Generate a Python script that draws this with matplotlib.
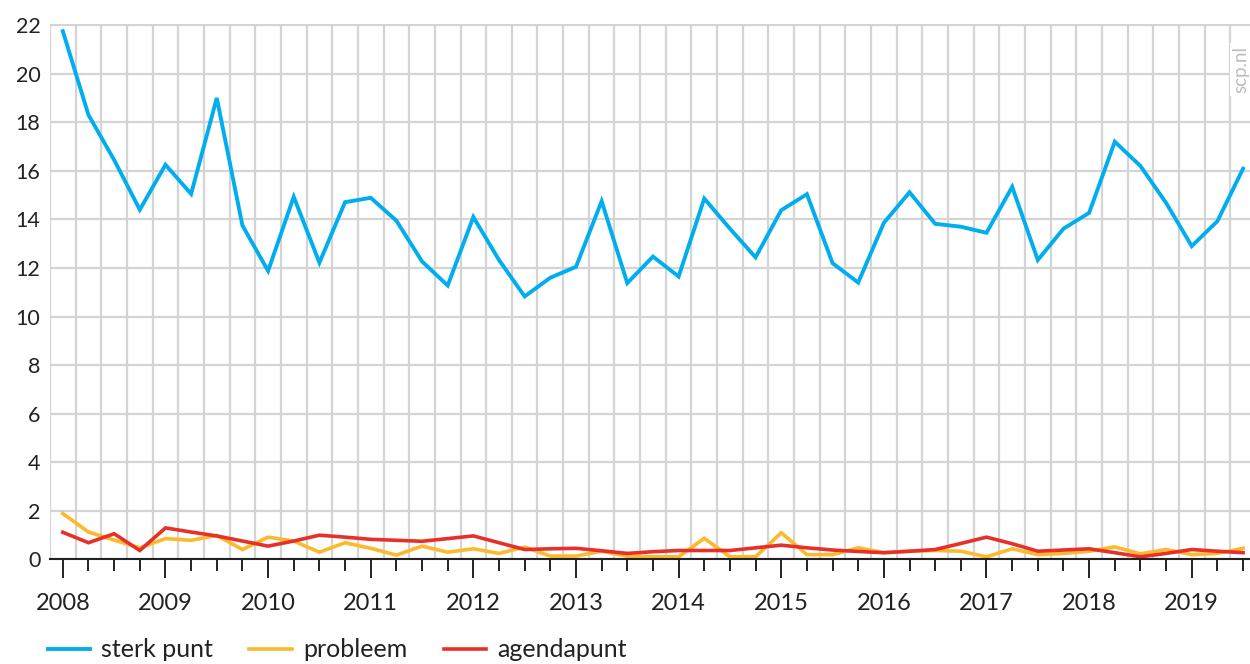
import numpy as np
import matplotlib
matplotlib.use('Agg')
import matplotlib.pyplot as plt

plt.rcParams['font.family'] = ['Lato', 'DejaVu Sans']

# quarterly figures, 2008 Q1 .. 2019 Q3
start_year = 2008
sterk_punt = [21.75, 18.3, 16.45, 14.4, 16.25, 15.05, 19.0, 13.75,
              11.88, 14.93, 12.22, 14.71, 14.89, 13.95, 12.27, 11.28,
              14.1, 12.33, 10.83, 11.6, 12.05, 14.75, 11.38, 12.47,
              11.65, 14.86, 13.62, 12.44, 14.38, 15.04, 12.2, 11.4,
              13.86, 15.12, 13.82, 13.7, 13.45, 15.34, 12.33, 13.62,
              14.27, 17.2, 16.2, 14.68, 12.9, 13.93, 16.09]
probleem = [1.89, 1.13, 0.8, 0.48, 0.86, 0.79, 0.99, 0.41,
            0.92, 0.76, 0.3, 0.69, 0.46, 0.18, 0.55, 0.3,
            0.44, 0.25, 0.51, 0.14, 0.14, 0.34, 0.14, 0.11,
            0.11, 0.87, 0.11, 0.11, 1.1, 0.2, 0.2, 0.48,
            0.28, 0.34, 0.37, 0.34, 0.11, 0.44, 0.2, 0.25,
            0.34, 0.52, 0.23, 0.41, 0.2, 0.25, 0.46]
agendapunt = [1.12, 0.69, 1.06, 0.37, 1.3, 1.13, 0.97, 0.76,
              0.55, 0.76, 1.0, 0.92, 0.83, 0.79, 0.75, 0.86,
              0.97, 0.69, 0.41, 0.44, 0.46, 0.36, 0.25, 0.32,
              0.37, 0.37, 0.37, 0.48, 0.59, 0.48, 0.39, 0.33,
              0.28, 0.34, 0.41, 0.66, 0.92, 0.65, 0.34, 0.39,
              0.44, 0.28, 0.11, 0.25, 0.41, 0.34, 0.28]
years = list(range(2008, 2020))

x = start_year + np.arange(len(sterk_punt)) / 4.0

BLUE = '#00AEEF'
ORANGE = '#FDB92C'
RED = '#E8302A'
GRID = '#D4D4D4'
TXT = '#222222'

fig = plt.figure(figsize=(12.5, 6.64), dpi=100)
ax = fig.add_axes([0.04, 0.1574, 0.96, 0.8066])

# grid: vertical lines sit between the quarters
ax.vlines(start_year - 0.125 + np.arange(48) * 0.25, 0, 22, color=GRID, lw=1.6, zorder=0)
ax.set_yticks(np.arange(0, 23, 2))
ax.yaxis.grid(True, color=GRID, lw=1.6, zorder=0)
ax.set_axisbelow(True)

ax.plot(x, sterk_punt, color=BLUE, lw=2.8, label='sterk punt', solid_joinstyle='miter')
ax.plot(x, probleem, color=ORANGE, lw=2.6, label='probleem', solid_joinstyle='miter')
ax.plot(x, agendapunt, color=RED, lw=2.6, label='agendapunt', solid_joinstyle='miter')

ax.set_xlim(start_year - 0.125, start_year + 46.27 / 4)
ax.set_ylim(0, 22.05)

for s in ['left', 'right', 'top']:
    ax.spines[s].set_visible(False)
ax.spines['bottom'].set_color(TXT)
ax.spines['bottom'].set_linewidth(1.5)

ax.set_xticks(years)
ax.set_xticks(x, minor=True)
ax.set_xticklabels([str(y) for y in years])
ax.tick_params(axis='x', which='major', length=14, width=1.4, color=TXT,
               labelsize=17, labelcolor=TXT, pad=10)
ax.tick_params(axis='x', which='minor', length=8.5, width=1.4, color=TXT)
ax.tick_params(axis='y', length=0, labelsize=15.5, labelcolor=TXT, pad=7)

ax.text(0.9925, 0.915, 'scp.nl', transform=ax.transAxes, rotation=90,
        ha='center', va='center', fontsize=13.5, color='#BDBDBD',
        bbox=dict(facecolor='white', edgecolor='none', pad=2))

fig.legend(loc='lower left', bbox_to_anchor=(0.02, -0.03), ncol=3, frameon=False,
           fontsize=18, handlelength=1.7, handletextpad=0.45, columnspacing=1.45,
           labelcolor=TXT)

fig.savefig('out.png', dpi=100)
